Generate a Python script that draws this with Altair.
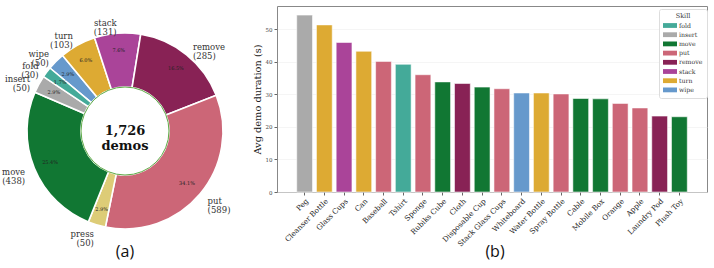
import math
import altair as alt
import numpy as np
import pandas as pd

# ---- data -------------------------------------------------------------
skills = ["fold", "insert", "move", "press", "put", "remove", "stack", "turn", "wipe"]
skill_counts = [30, 50, 438, 50, 589, 285, 131, 103, 50]
skill_colors = ["#44AA99", "#AAAAAA", "#117733", "#DDCC77", "#CC6677",
                "#882255", "#AA4499", "#DDAA33", "#6699CC"]

objects = ["Peg", "Cleanser Bottle", "Glass Cups", "Can", "Baseball", "Tshirt",
           "Sponge", "Rubiks Cube", "Cloth", "Disposable Cup", "Stack Glass Cups",
           "Whiteboard", "Water Bottle", "Spray Bottle", "Cable", "Mobile Box",
           "Orange", "Apple", "Laundry Pod", "Plush Toy"]
avg_duration = [54.3, 51.3, 45.9, 43.2, 40.1, 39.2, 36.0, 33.8, 33.3, 32.2,
                31.7, 30.4, 30.4, 30.1, 28.7, 28.6, 27.2, 25.8, 23.3, 23.1]
object_skill = ["insert", "turn", "stack", "turn", "put", "fold", "put", "move",
                "remove", "move", "put", "wipe", "turn", "put", "move", "move",
                "put", "put", "remove", "move"]
y_ticks = [0, 10, 20, 30, 40, 50]

SERIF = "DejaVu Serif"
SANS = "Open Sans"

# ---- donut geometry (computed from the counts) -------------------------
total = sum(skill_counts)
start_angle = math.radians(310)          # clockwise from 12 o'clock
pie = pd.DataFrame({"skill": skills, "count": skill_counts})
pie = pie.sort_values("skill", ascending=False).reset_index(drop=True)
pie["end"] = pie["count"].cumsum()
pie["start"] = pie["end"] - pie["count"]
pie["mid"] = (pie["start"] + pie["end"]) / 2
pie["pct"] = (pie["count"] / total).map(lambda v: f"{v * 100:.1f}%")
pie["label"] = pie["skill"] + "\n(" + pie["count"].astype(str) + ")"
mid_rad = start_angle + pie["mid"] / total * 2 * np.pi
pie["side"] = np.where(np.sin(mid_rad) < 0, "left", "right")

theta_scale = alt.Scale(domain=[0, total], range=[start_angle, start_angle + 2 * np.pi])
pie_color = alt.Color("skill:N", scale=alt.Scale(domain=skills, range=skill_colors), legend=None)

CX, CY = -152, 125          # donut centre, relative to the bar plot origin
R_OUT, R_IN = 98, 44

pie_base = alt.Chart(pie)
wedges = pie_base.mark_arc(outerRadius=R_OUT, innerRadius=R_IN, stroke="white",
                           strokeWidth=1.6).encode(
    x=alt.value(CX), y=alt.value(CY),
    theta=alt.Theta("start:Q", scale=theta_scale, stack=None),
    theta2="end:Q",
    color=pie_color,
)
hole = alt.Chart(pd.DataFrame({"k": [0]})).mark_arc(
    outerRadius=R_IN, innerRadius=0, theta=0, theta2=2 * np.pi,
    fill="white", stroke="#5DAA45", strokeWidth=1
).encode(x=alt.value(CX), y=alt.value(CY))

pct_text = pie_base.mark_text(font=SERIF, fontSize=5, color="#222", radius=81).encode(
    x=alt.value(CX), y=alt.value(CY),
    theta=alt.Theta("mid:Q", scale=theta_scale, stack=None),
    text="pct:N",
)

def outer_labels(side, align):
    return pie_base.transform_filter(alt.datum.side == side).mark_text(
        font=SERIF, fontSize=8.5, color="#333", radius=108, align=align,
        baseline="middle", lineBreak="\n", lineHeight=9
    ).encode(
        x=alt.value(CX), y=alt.value(CY),
        theta=alt.Theta("mid:Q", scale=theta_scale, stack=None),
        text="label:N",
    )

center_text = alt.Chart(pd.DataFrame({"t": [f"{total:,}\ndemos"]})).mark_text(
    font=SERIF, fontSize=13, fontWeight="bold", color="#111",
    lineBreak="\n", lineHeight=15, baseline="middle"
).encode(x=alt.value(CX), y=alt.value(CY), text="t:N")

panel_tags = alt.Chart(pd.DataFrame({"t": ["(a)", "(b)"], "px": [CX, 218]})).mark_text(
    font=SANS, fontSize=16, color="#111", baseline="middle"
).encode(x=alt.X("px:Q", scale=None), y=alt.value(246), text="t:N")

# ---- bar chart ----------------------------------------------------------
bars_df = pd.DataFrame({"object": objects, "duration": avg_duration, "skill": object_skill})
bar_skills = sorted(set(object_skill))
bar_colors = [skill_colors[skills.index(s)] for s in bar_skills]

bars = alt.Chart(bars_df).mark_bar(stroke="white", strokeOpacity=0.55, strokeWidth=1).encode(
    x=alt.X("object:N", sort=objects, title=None,
            scale=alt.Scale(paddingInner=0.2, paddingOuter=1.0),
            axis=alt.Axis(labelAngle=-45, labelAlign="right", labelBaseline="top",
                          labelFont=SERIF, labelFontSize=7.3, labelColor="#222",
                          labelPadding=2, tickSize=3, tickColor="#666", domain=False,
                          grid=False)),
    y=alt.Y("duration:Q", title="Avg demo duration (s)",
            scale=alt.Scale(domain=[0, 57.1], nice=False),
            axis=alt.Axis(values=y_ticks, labelFont=SERIF, labelFontSize=5.5,
                          labelColor="#444", tickSize=3, tickColor="#666",
                          domain=False, gridColor="#EFEFEF", gridWidth=0.6,
                          titleFont=SERIF, titleFontSize=9.8, titleFontWeight="normal",
                          titleColor="#222", titlePadding=3)),
    color=alt.Color("skill:N", scale=alt.Scale(domain=bar_skills, range=bar_colors),
                    legend=alt.Legend(
                        title="Skill", orient="none", legendX=382, legendY=3,
                        titleFont=SERIF, titleFontSize=6.5, titleFontWeight="normal",
                        titleColor="#333", titleAnchor="middle", titlePadding=2,
                        labelFont=SERIF, labelFontSize=6.2, labelColor="#333",
                        symbolType="M-1.75,-0.6L1.75,-0.6L1.75,0.6L-1.75,0.6Z",
                        symbolSize=64, symbolStrokeWidth=0, symbolOffset=3,
                        labelOffset=5, rowPadding=1.2,
                        fillColor="white", strokeColor="#DDDDDD", cornerRadius=2,
                        padding=4)),
)

chart = alt.layer(
    bars, wedges, hole, pct_text, outer_labels("left", "right"),
    outer_labels("right", "left"), center_text, panel_tags
).resolve_scale(color="independent").properties(
    width=430, height=186,
    autosize=alt.AutoSizeParams(type="none"),
    padding={"left": 277, "top": 6, "right": 7, "bottom": 76},
).configure_view(stroke="#888", strokeWidth=1)

chart.save("out.html", embed_options={"renderer": "svg", "actions": False})
